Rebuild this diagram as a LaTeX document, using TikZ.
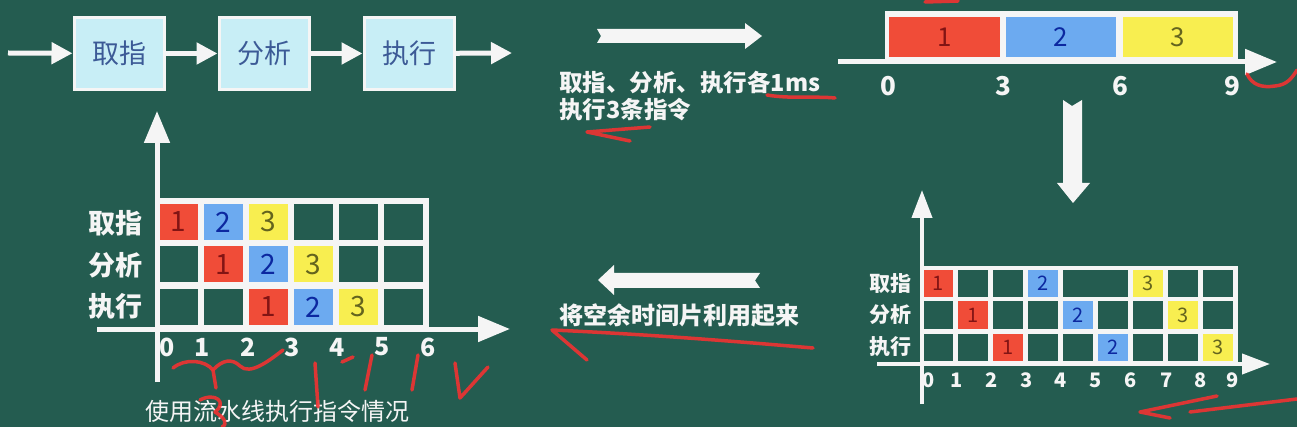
\documentclass[tikz,border=0pt]{standalone}
\usepackage{fontspec}
\setmainfont{Noto Sans CJK SC}
\usetikzlibrary{arrows.meta}
\definecolor{board}{RGB}{36,92,80}
\definecolor{chalk}{RGB}{245,245,245}
\definecolor{boxfill}{RGB}{200,238,246}
\definecolor{boxtext}{RGB}{60,90,150}
\definecolor{cred}{RGB}{240,76,56}
\definecolor{cblue}{RGB}{108,170,240}
\definecolor{cyel}{RGB}{248,238,80}
\definecolor{tred}{RGB}{130,20,20}
\definecolor{tblue}{RGB}{12,40,160}
\definecolor{tyel}{RGB}{100,100,30}
\definecolor{ink}{RGB}{240,50,50}
\tikzset{
  stagebox/.style={draw=chalk,line width=3pt,fill=boxfill,minimum width=90pt,minimum height=72pt,inner sep=0pt,text=boxtext,font=\fontsize{27}{30}\selectfont},
  parrow/.style={draw=chalk,line width=5pt,-{Triangle[length=21pt,width=21pt]}},
  axis/.style={draw=chalk,line width=5pt,-{Triangle[length=32pt,width=25pt]}},
  axisS/.style={draw=chalk,line width=4pt,-{Triangle[length=28pt,width=20pt]}},
  cellL/.style={minimum width=39pt,minimum height=36pt,inner sep=0pt,fill=board,font=\fontsize{28}{30}\selectfont},
  cellR/.style={minimum width=30pt,minimum height=27pt,inner sep=0pt,fill=board,font=\fontsize{20}{22}\selectfont},
  cellT/.style={minimum height=40pt,inner sep=0pt,font=\fontsize{26}{28}\selectfont},
  ctr/.style={fill=cred,text=tred},
  ctb/.style={fill=cblue,text=tblue},
  cty/.style={fill=cyel,text=tyel},
  lblL/.style={text=chalk,font=\fontsize{27}{30}\selectfont\bfseries,inner sep=0pt},
  lblR/.style={text=chalk,font=\fontsize{21}{24}\selectfont\bfseries,inner sep=0pt},
  tickL/.style={text=chalk,font=\fontsize{25}{27}\selectfont\bfseries,inner sep=0pt},
  tickT/.style={text=chalk,font=\fontsize{26}{28}\selectfont\bfseries,inner sep=0pt},
  tickR/.style={text=chalk,font=\fontsize{20}{22}\selectfont\bfseries,inner sep=0pt},
  txt/.style={text=chalk,inner sep=0pt,anchor=west},
  bigarrow/.style={fill=chalk,draw=none},
  redink/.style={draw=ink,line width=3.5pt,line cap=round,line join=round,opacity=0.9}
}
\begin{document}
\begin{tikzpicture}[x=1pt,y=-1pt]
\useasboundingbox (0,0) rectangle (1297,427);
\fill[board] (0,0) rectangle (1297,427);

% ---------- top-left pipeline ----------
\coordinate (pin) at (8,53);
\coordinate (pout) at (512,53);
\node[stagebox] (s1) at (119,53.5) {取指};
\node[stagebox] (s2) at (264,53.5) {分析};
\node[stagebox] (s3) at (409,53.5) {执行};
\draw[parrow] (pin) -- (s1);
\draw[parrow] (s1) -- (s2);
\draw[parrow] (s2) -- (s3);
\draw[parrow] (s3) -- (pout);

% ---------- top-middle arrow and text ----------
\fill[bigarrow] (597,29) -- (745,29) -- (745,23) -- (762,36) -- (745,49) -- (745,43) -- (597,43) -- (601,36) -- cycle;
\node[txt,font=\fontsize{23.5}{26}\selectfont\bfseries] (t1) at (559,83) {取指、分析、执行各1ms};
\node[txt,font=\fontsize{23.5}{26}\selectfont\bfseries] (t2) at (559,110) {执行3条指令};

% ---------- top-right sequential bar ----------
\fill[chalk] (885,11) rectangle (1238,62);
\node[cellT,minimum width=111pt,ctr] (b1) at (944.5,37) {1};
\node[cellT,minimum width=110pt,ctb] (b2) at (1061,37) {2};
\node[cellT,minimum width=110pt,cty] (b3) at (1178,37) {3};
\coordinate (ta0) at (838,62);
\coordinate (ta1) at (1277,62);
\draw[axis] (ta0) -- (ta1);
\node[tickT] (tt0) at (888,86) {0};
\node[tickT] (tt3) at (1003,86) {3};
\node[tickT] (tt6) at (1120,86) {6};
\node[tickT] (tt9) at (1232,86) {9};

% ---------- down arrow ----------
\fill[bigarrow] (1063,100) -- (1072,106) -- (1082,100) -- (1082,183) -- (1090,183) -- (1073,203) -- (1057,183) -- (1063,183) -- cycle;

% ---------- right grid (sequential) ----------
\fill[chalk] (920,266) rectangle (1238,364);
\foreach \i in {0,...,8}{
  \foreach \j/\yy in {0/283.5,1/315,2/347}{
    \node[cellR] (R\j\i) at ({938+34.95*\i},\yy) {};
  }
}
\fill[board] (1090,270) rectangle (1101,297);
\node[cellR,ctr] (RA1) at (938,283.5) {1};
\node[cellR,ctb] (RA2) at ({938+34.95*3},283.5) {2};
\node[cellR,cty] (RA3) at ({938+34.95*6},283.5) {3};
\node[cellR,ctr] (RB1) at ({938+34.95*1},315) {1};
\node[cellR,ctb] (RB2) at ({938+34.95*4},315) {2};
\node[cellR,cty] (RB3) at ({938+34.95*7},315) {3};
\node[cellR,ctr] (RC1) at ({938+34.95*2},347) {1};
\node[cellR,ctb] (RC2) at ({938+34.95*5},347) {2};
\node[cellR,cty] (RC3) at ({938+34.95*8},347) {3};
\coordinate (rv0) at (922,404);
\coordinate (rv1) at (922,190);
\coordinate (rh0) at (877,364);
\coordinate (rh1) at (1270,364);
\draw[axisS] (rv0) -- (rv1);
\draw[axisS] (rh0) -- (rh1);
\node[lblR] (rl1) at (890,283.5) {取指};
\node[lblR] (rl2) at (890,315) {分析};
\node[lblR] (rl3) at (890,347) {执行};
\foreach \n/\xx in {0/929,1/957,2/992,3/1027,4/1061,5/1096,6/1131,7/1167,8/1201,9/1233}{
  \node[tickR] (rt\n) at (\xx,380) {\n};
}

% ---------- left-pointing arrow and text ----------
\fill[bigarrow] (598,280) -- (614,265) -- (614,273) -- (760,273) -- (755,280.5) -- (760,288) -- (614,288) -- (614,295) -- cycle;
\node[txt,font=\fontsize{24}{26}\selectfont\bfseries] (t3) at (559,315) {将空余时间片利用起来};

% ---------- left grid (pipelined) ----------
\fill[chalk] (155,198) rectangle (429,329);
\foreach \i in {0,...,5}{
  \foreach \j/\yy in {0/222,1/264.5,2/307}{
    \node[cellL] (L\j\i) at ({178.5+45*\i},\yy) {};
  }
}
\node[cellL,ctr] (LA1) at (178.5,222) {1};
\node[cellL,ctb] (LA2) at (223.5,222) {2};
\node[cellL,cty] (LA3) at (268.5,222) {3};
\node[cellL,ctr] (LB1) at (223.5,264.5) {1};
\node[cellL,ctb] (LB2) at (268.5,264.5) {2};
\node[cellL,cty] (LB3) at (313.5,264.5) {3};
\node[cellL,ctr] (LC1) at (268.5,307) {1};
\node[cellL,ctb] (LC2) at (313.5,307) {2};
\node[cellL,cty] (LC3) at (358.5,307) {3};
\coordinate (lv0) at (157,382);
\coordinate (lv1) at (157,111);
\coordinate (lh0) at (97,329);
\coordinate (lh1) at (510,329);
\draw[axis] (lv0) -- (lv1);
\draw[axis] (lh0) -- (lh1);
\node[lblL] (ll1) at (115,223) {取指};
\node[lblL] (ll2) at (115,265) {分析};
\node[lblL] (ll3) at (115,306) {执行};
\foreach \n/\xx in {0/167,1/202,2/248,3/292,4/337,5/382,6/428}{
  \node[tickL] (lt\n) at (\xx,347) {\n};
}
\node[text=chalk,inner sep=0pt,font=\fontsize{24}{26}\selectfont] (cap) at (277,411) {使用流水线执行指令情况};

% ---------- red hand annotations ----------
\draw[redink] (767,95) .. controls (790,99) and (815,96) .. (835,98);
\draw[redink] (650,127) -- (587,132) -- (630,141);
\draw[redink] (1247,74) .. controls (1252,85) and (1262,88) .. (1275,86) .. controls (1287,85) and (1292,78) .. (1297,70);
\draw[redink] (925,2) -- (958,1);
\draw[redink] (813,348) .. controls (720,340) and (640,334) .. (552,330) -- (587,360);
\draw[redink] (1217,396) -- (1140,412) -- (1170,418);
\draw[redink] (1190,412) -- (1297,399);
\draw[redink] (173,368) .. controls (185,358) and (205,360) .. (213,370) .. controls (222,360) and (232,358) .. (240,366) .. controls (250,376) and (270,360) .. (283,350);
\draw[redink] (213,370) -- (216,388);
\draw[redink] (200,400) .. controls (215,392) and (228,402) .. (215,412) .. controls (225,418) and (228,424) .. (222,427);
\draw[redink] (315,363) -- (318,407);
\draw[redink] (342,362) -- (353,357);
\draw[redink] (372,355) -- (365,390);
\draw[redink] (418,355) -- (412,390);
\draw[redink] (455,363) -- (460,398) -- (488,367);
\end{tikzpicture}
\end{document}
